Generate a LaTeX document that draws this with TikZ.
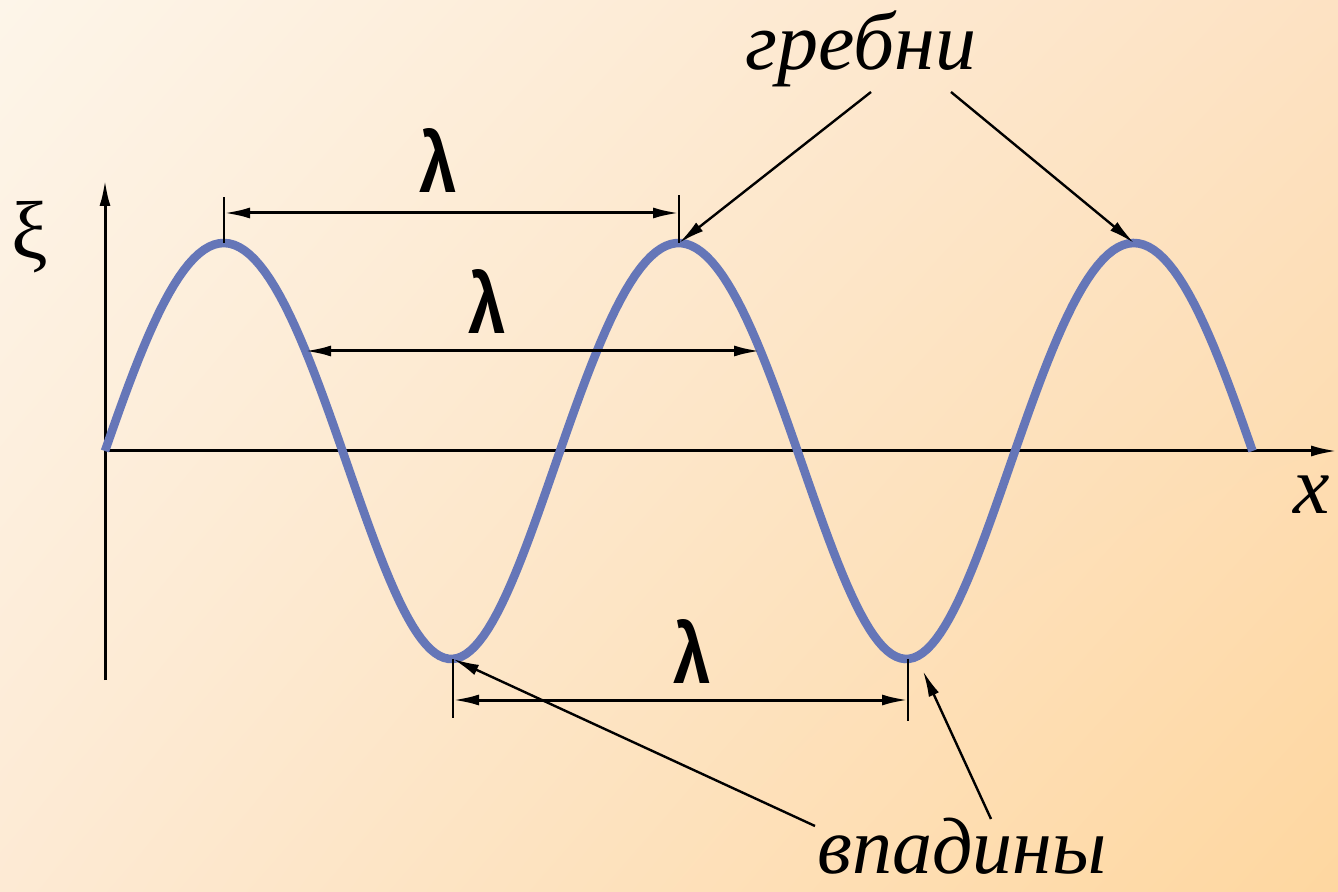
\documentclass[tikz,border=0pt]{standalone}
\usepackage{fontspec}
\setmainfont{Liberation Serif}
\newfontfamily\txtfont{Liberation Serif}
\newfontfamily\lamfont{Liberation Sans}
\usetikzlibrary{arrows.meta, shadings}
\definecolor{bgtl}{RGB}{253,245,233}
\definecolor{bgtr}{RGB}{253,226,195}
\definecolor{bgbl}{RGB}{253,234,212}
\definecolor{bgbr}{RGB}{254,215,160}
\definecolor{waveblue}{RGB}{101,118,184}
\newcommand{\lam}{\scalebox{0.82}[1.04]{λ}}

\begin{document}
\begin{tikzpicture}[x=0.5pt, y=-0.5pt, >={Latex[length=13pt,width=5.5pt]}]
    \tikzstyle{txt}=[inner sep=0pt, anchor=base, font=\txtfont\fontsize{41}{41}\selectfont]
    \tikzstyle{lam}=[inner sep=0pt, anchor=base, font=\lamfont\bfseries\fontsize{41}{41}\selectfont]
    \tikzstyle{axis}=[line width=1.5pt]
    \tikzstyle{dim}=[line width=1.5pt]
    \tikzstyle{tick}=[line width=1.2pt]
    \tikzstyle{pointer}=[line width=1.2pt]
    \useasboundingbox (0,0) rectangle (1338,892);
    \shade[upper left=bgtl, upper right=bgtr, lower left=bgbl, lower right=bgbr] (0,0) rectangle (1338,892);
    % axes
    \coordinate (O) at (105,451);
    \coordinate (ytop) at (105,180);
    \coordinate (ybot) at (105,680);
    \coordinate (xend) at (1337,451);
    \draw[axis, ->] (ybot) -- (ytop);
    \draw[axis, ->] (O) -- (xend);
    \node[txt] (xi) at (30,259) {ξ};
    \node[txt] (xlab) at (1312,514) {\itshape x};
    % wave
    \draw[waveblue, line width=4.3pt] plot[domain=0:900, samples=240] ({110+1.26389*\x-5*cos(\x)}, {451-208*sin(\x)});
    \coordinate (c1) at (224,243);
    \coordinate (c2) at (679,243);
    \coordinate (c3) at (1134,243);
    \coordinate (t1) at (453,659);
    \coordinate (t2) at (908,659);
    % wavelengths
    \coordinate (c1t) at (224,197); \coordinate (c2t) at (679,195);
    \coordinate (d1a) at (224,213); \coordinate (d1b) at (679,213);
    \draw[tick] (c1) -- (c1t); \draw[tick] (c2) -- (c2t);
    \draw[dim, <->] (d1a) -- (d1b);
    \node[lam] (lam1) at (438,193) {\lam};
    \coordinate (m1) at (305,351); \coordinate (m2) at (760,351);
    \draw[dim, <->] (m1) -- (m2);
    \node[lam] (lam2) at (487,334) {\lam};
    \coordinate (t1b) at (453,718); \coordinate (t2b) at (908,721);
    \coordinate (d3a) at (453,700); \coordinate (d3b) at (908,700);
    \draw[tick] (t1) -- (t1b); \draw[tick] (t2) -- (t2b);
    \draw[dim, <->] (d3a) -- (d3b);
    \node[lam] (lam3) at (692,683) {\lam};
    % labels
    \node[txt] (crests) at (861,70) {\itshape гребни};
    \coordinate (g1) at (871,92); \coordinate (g2) at (951,92);
    \draw[pointer, ->] (g1) -- (c2);
    \draw[pointer, ->] (g2) -- (c3);
    \node[txt, text depth=0pt, font=\txtfont\fontsize{40}{40}\selectfont] (troughs) at (962,873) {\itshape впадины};
    \coordinate (v1) at (815,826); \coordinate (v2) at (991,819);
    \coordinate (t2p) at (923,671);
    \draw[pointer, ->] (v1) -- (t1);
    \draw[pointer, ->] (v2) -- (t2p);
\end{tikzpicture}
\end{document}
